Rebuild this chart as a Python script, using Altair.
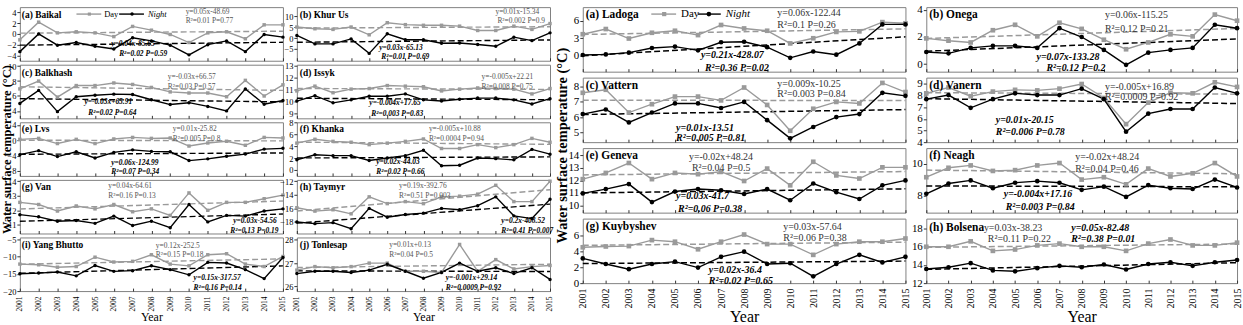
import altair as alt
import pandas as pd

YEARS = list(range(2001, 2016))

# ---------------- left figure (10 lakes) ----------------
BAIKAL_DAY = [-1.1, 2.2, 0.2, 0.4, 0.2, -0.5, 1.4, 0.7, -0.1, -1.6, 0.2, 0.4, -0.9, 1.7, 1.7]
BAIKAL_NIGHT = [-3.3, 0.0, -2.1, -1.6, -2.3, -2.8, -0.7, -1.3, -2.1, -3.9, -2.0, -1.3, -3.3, -0.1, -0.6]
KHURUS_DAY = [5.1, 4.3, 4.0, 5.1, 1.5, 7.1, 6.2, 5.9, 5.9, 5.5, 3.5, 3.5, 5.5, 4.0, 6.7]
KHURUS_NIGHT = [1.2, -2.7, -2.7, -0.4, -7.1, 2.0, -0.8, -0.8, -2.4, -2.3, -3.0, -3.8, 0.4, -1.2, 2.4]
BALKHASH_DAY = [6.95, 8.0, 5.85, 7.4, 7.4, 7.75, 7.55, 7.15, 6.55, 6.4, 6.4, 5.9, 8.1, 6.0, 7.5]
BALKHASH_NIGHT = [5.0, 6.75, 3.9, 5.9, 6.1, 6.25, 6.2, 5.5, 4.85, 5.1, 4.6, 4.0, 6.95, 4.9, 5.4]
ISSYK_DAY = [10.9, 11.3, 10.75, 11.05, 11.1, 11.35, 11.3, 11.25, 10.9, 11.05, 11.15, 11.1, 11.05, 10.65, 11.1]
ISSYK_NIGHT = [10.05, 10.5, 9.9, 10.15, 10.45, 10.45, 10.65, 10.15, 10.05, 10.2, 10.3, 10.3, 10.15, 9.8, 10.25]
LVS_DAY = [0.25, 0.5, -0.85, 0.25, -0.85, 0.35, 0.75, 0.5, 0.6, -1.5, -0.7, -0.25, -1.3, 0.75, 0.6]
LVS_NIGHT = [-3.75, -2.7, -4.25, -3.0, -4.6, -3.15, -2.5, -2.9, -3.0, -5.3, -4.85, -4.15, -3.6, -2.3, -2.1]
KHANKA_DAY = [4.5, 5.15, 4.8, 4.65, 4.25, 4.5, 4.8, 5.2, 3.6, 3.6, 4.25, 3.75, 4.25, 5.3, 4.65]
KHANKA_NIGHT = [1.7, 2.55, 2.4, 2.4, 1.6, 2.0, 2.4, 3.3, 0.7, 0.8, 2.0, 1.9, 1.7, 3.45, 2.65]
VAN_DAY = [12.55, 12.4, 11.95, 12.3, 12.1, 12.4, 11.9, 12.1, 11.65, 13.2, 12.0, 12.55, 12.55, 12.8, 13.05]
VAN_NIGHT = [11.7, 11.55, 11.25, 11.3, 11.1, 11.6, 10.95, 11.25, 10.8, 12.4, 11.2, 11.65, 11.6, 11.95, 12.1]
TAYMYR_DAY = [-15.9, -16.4, -16.2, -16.8, -14.3, -15.3, -15.0, -15.3, -14.3, -14.2, -13.9, -12.6, -15.0, -15.0, -12.0]
TAYMYR_NIGHT = [-18.0, -18.25, -18.1, -19.0, -16.0, -17.3, -16.9, -16.7, -16.0, -16.2, -15.6, -14.3, -17.1, -17.5, -14.65]
YANG_DAY = [-12.2, -12.4, -13.1, -12.9, -10.2, -11.6, -11.4, -9.5, -12.2, -12.7, -9.5, -9.2, -12.2, -12.9, -10.0]
YANG_NIGHT = [-15.0, -14.8, -14.5, -15.6, -12.6, -14.3, -14.1, -12.7, -13.8, -15.3, -11.7, -11.9, -13.8, -16.4, -10.3]
TONLE_DAY = [26.7, 26.85, 26.8, 26.85, 27.0, 27.0, 26.65, 26.65, 26.6, 27.8, 26.65, 27.15, 26.75, 26.85, 26.9]
TONLE_NIGHT = [26.55, 26.65, 26.65, 26.6, 26.7, 26.95, 26.65, 26.35, 26.6, 27.0, 26.65, 26.8, 26.55, 26.8, 26.3]

# ---------------- right figure (8 lakes) ----------------
LADOGA_DAY = [3.7, 4.6, 2.95, 3.95, 4.3, 3.55, 5.3, 4.7, 4.3, 2.1, 3.0, 4.1, 4.2, 5.8, 5.6]
LADOGA_NIGHT = [0.1, 0.2, 0.5, 1.3, 1.55, 0.9, 2.3, 2.4, 1.45, -0.4, 0.7, 0.15, 2.1, 5.4, 5.4]
ONEGA_DAY = [1.9, 1.73, 1.6, 2.5, 2.9, 2.05, 3.05, 2.6, 1.8, 1.1, 1.6, 2.2, 2.05, 3.65, 3.2]
ONEGA_NIGHT = [0.9, 0.8, 1.2, 1.35, 1.35, 1.2, 2.65, 2.0, 1.05, -0.05, 0.85, 1.05, 1.2, 2.9, 2.65]
VATTERN_DAY = [7.6, 7.8, 6.3, 6.85, 7.35, 7.35, 7.1, 7.95, 6.8, 5.1, 6.55, 7.0, 6.9, 8.25, 7.65]
VATTERN_NIGHT = [6.2, 6.5, 5.65, 6.3, 6.9, 6.9, 6.6, 7.0, 5.8, 4.6, 5.35, 6.0, 6.2, 7.6, 7.4]
VANERN_DAY = [8.2, 8.7, 7.95, 8.35, 8.5, 8.45, 8.6, 9.0, 7.8, 5.55, 7.4, 8.25, 8.2, 9.15, 8.75]
VANERN_NIGHT = [7.7, 8.05, 6.95, 7.7, 8.2, 8.05, 8.05, 8.6, 7.7, 4.9, 6.45, 6.85, 6.85, 8.7, 8.2]
GENEVA_DAY = [12.1, 12.6, 13.4, 12.1, 12.6, 12.5, 12.7, 11.95, 12.95, 11.6, 13.5, 12.4, 12.15, 13.05, 13.05]
GENEVA_NIGHT = [10.95, 11.3, 11.7, 10.25, 11.1, 11.3, 11.2, 10.9, 11.3, 10.4, 11.75, 11.05, 10.5, 11.6, 12.0]
NEAGH_DAY = [9.15, 9.75, 9.9, 9.55, 9.6, 9.9, 10.05, 9.0, 9.15, 8.7, 9.7, 9.2, 9.4, 10.05, 9.2]
NEAGH_NIGHT = [8.1, 8.75, 8.95, 8.45, 8.8, 8.9, 8.8, 8.35, 8.55, 7.9, 8.65, 8.45, 8.4, 9.0, 8.5]
KUYB_DAY = [4.5, 4.6, 4.65, 5.4, 5.2, 4.25, 5.2, 6.1, 4.9, 4.9, 3.55, 4.9, 5.2, 5.2, 5.6]
KUYB_NIGHT = [3.1, 2.4, 1.75, 2.4, 2.7, 1.95, 3.3, 3.95, 2.4, 2.5, 0.85, 2.4, 3.55, 2.6, 3.3]
BOLSENA_DAY = [16.0, 16.0, 16.6, 15.55, 15.7, 16.15, 16.35, 16.0, 16.0, 15.55, 16.35, 16.8, 16.15, 16.15, 16.45]
BOLSENA_NIGHT = [13.55, 13.75, 14.2, 13.4, 13.3, 13.65, 13.9, 13.75, 14.05, 13.5, 14.1, 14.3, 13.9, 14.3, 14.55]

FONT = "Liberation Serif"
DAY_C = "#9a9a9a"
NIGHT_C = "#000000"
YTITLE = "Water surface temperature (\u00b0C)"

LEFT = [
    dict(day=BAIKAL_DAY, night=BAIKAL_NIGHT, dom=[-5, 5], ticks=[-4, -2, 0, 2, 4], legend=True,
         ann=[("(a) Baikal", 2, 8, "t"), ("y=0.05x-48.69", 167, 5, "d"), ("R\u00b2=0.01 P=0.77", 167, 14, "d"),
              ("y=0.04x-85.65", 92, 37, "n"), ("R\u00b2=0.02 P=0.59", 100, 47, "n")]),
    dict(day=KHURUS_DAY, night=KHURUS_NIGHT, dom=[-10.5, 14.3], ticks=[-5, 0, 5, 10],
         ann=[("(b) Khur Us", 3, 8, "t"), ("y=0.01x-15.34", 200, 5, "d"), ("R\u00b2=0.002 P=0.9", 202, 14, "d"),
              ("y=0.03x-65.13", 83, 41, "n"), ("R\u00b2=0.01 P=0.69", 85, 50, "n")]),
    dict(day=BALKHASH_DAY, night=BALKHASH_NIGHT, dom=[3, 10.2], ticks=[4, 6, 8, 10],
         ann=[("(c) Balkhash", 2, 8, "t"), ("y=-0.03x+66.57", 149, 12, "d"), ("R\u00b2=0.03 P=0.57", 149, 22, "d"),
              ("y=-0.03x+65.91", 65, 38, "n"), ("R\u00b2=0.02 P=0.64", 69, 49, "n")]),
    dict(day=ISSYK_DAY, night=ISSYK_NIGHT, dom=[8.6, 13.1], ticks=[9, 10, 11, 12, 13],
         ann=[("(d) Issyk", 3, 8, "t"), ("y=-0.005x+22.21", 186, 12, "d"), ("R\u00b2=0.008 P=0.75", 186, 22, "d"),
              ("y=-0.004x+17.65", 73, 39, "n"), ("R\u00b2=0.003 P=0.83", 75, 50, "n")]),
    dict(day=LVS_DAY, night=LVS_NIGHT, dom=[-9.3, 4.7], ticks=[-8, -4, 0, 4], ytitle=True,
         ann=[("(e) Lvs", 2, 7, "t"), ("y=0.01x-25.82", 154, 7, "d"), ("R\u00b2=0.005 P=0.8", 154, 17, "d"),
              ("y=0.06x-124.99", 92, 41, "n"), ("R\u00b2=0.07 P=0.34", 92, 50, "n")]),
    dict(day=KHANKA_DAY, night=KHANKA_NIGHT, dom=[-1, 8], ticks=[0, 2, 4, 6, 8],
         ann=[("(f) Khanka", 3, 7, "t"), ("y=-0.005x+10.88", 133, 7, "d"), ("R\u00b2=0.0004 P=0.94", 133, 17, "d"),
              ("y=0.02x-44.03", 80, 40, "n"), ("R\u00b2=0.02 P=0.66", 80, 50, "n")]),
    dict(day=VAN_DAY, night=VAN_NIGHT, dom=[10.4, 14.1], ticks=[11, 12, 13, 14],
         ann=[("(g) Van", 2, 7, "t"), ("y=0.04x-64.61", 89, 6, "d"), ("R\u00b2=0.16 P=0.13", 89, 16, "d"),
              ("y=0.03x-54.56", 215, 41, "n"), ("R\u00b2=0.13 P=0.19", 212, 51, "n")]),
    dict(day=TAYMYR_DAY, night=TAYMYR_NIGHT, dom=[-19.7, -11.8], ticks=[-18, -16, -14, -12],
         ann=[("(h) Taymyr", 3, 7, "t"), ("y=0.19x-392.76", 103, 6, "d"), ("R\u00b2=0.51 P=0.003", 103, 16, "d"),
              ("y=0.2x-408.52", 206, 41, "n"), ("R\u00b2=0.41 P=0.007", 206, 51, "n")]),
    dict(day=YANG_DAY, night=YANG_NIGHT, dom=[-20, -4.5], ticks=[-20, -15, -10, -5], bottom=True,
         ann=[("(i) Yang Bhutto", 2, 8, "t"), ("y=0.12x-252.5", 137, 9, "d"), ("R\u00b2=0.15 P=0.18", 137, 18, "d"),
              ("y=0.15x-317.57", 175, 41, "n"), ("R\u00b2=0.16 P=0.14", 175, 51, "n")]),
    dict(day=TONLE_DAY, night=TONLE_NIGHT, dom=[25.8, 28.1], ticks=[26, 27, 28], bottom=True,
         ann=[("(j) Tonlesap", 3, 8, "t"), ("y=0.01x+0.13", 93, 8, "d"), ("R\u00b2=0.04 P=0.5", 93, 18, "d"),
              ("y=-0.001x+29.14", 150, 41, "n"), ("R\u00b2=0.0009 P=0.92", 150, 51, "n")]),
]

RIGHT = [
    dict(day=LADOGA_DAY, night=LADOGA_NIGHT, dom=[-2.8, 8.4], ticks=[0, 3, 6], legend=True,
         ann=[("(a) Ladoga", 3, 8, "t"), ("y=0.06x-122.44", 196, 6, "d"), ("R\u00b2=0.1 P=0.26", 196, 18, "d"),
              ("y=0.21x-428.07", 119, 48, "n"), ("R\u00b2=0.36 P=0.02", 123, 61, "n")]),
    dict(day=ONEGA_DAY, night=ONEGA_NIGHT, dom=[-0.55, 4.2], ticks=[0, 2, 4],
         ann=[("(b) Onega", 3, 8, "t"), ("y=0.06x-115.25", 180, 8, "d"), ("R\u00b2=0.12 P=0.21", 180, 22, "d"),
              ("y=0.07x-133.28", 111, 50, "n"), ("R\u00b2=0.12 P=0.2", 121, 61, "n")]),
    dict(day=VATTERN_DAY, night=VATTERN_NIGHT, dom=[4.35, 8.6], ticks=[5, 6, 7, 8], ytitle=True,
         ann=[("(c) Vattern", 3, 8, "t"), ("y=0.009x-10.25", 196, 6, "d"), ("R\u00b2=0.003 P=0.84", 196, 17, "d"),
              ("y=0.01x-13.51", 94, 51, "n"), ("R\u00b2=0.005 P=0.81", 94, 61, "n")]),
    dict(day=VANERN_DAY, night=VANERN_NIGHT, dom=[4.0, 9.55], ticks=[4, 5, 6, 7, 8, 9],
         ann=[("(d) Vanern", 3, 8, "t"), ("y=-0.005x+16.89", 180, 9, "d"), ("R\u00b2=0.0009 P=0.92", 180, 20, "d"),
              ("y=0.01x-20.15", 70, 43, "n"), ("R\u00b2=0.006 P=0.78", 70, 55, "n")]),
    dict(day=GENEVA_DAY, night=GENEVA_NIGHT, dom=[9.4, 14.6], ticks=[10, 11, 12, 13, 14],
         ann=[("(e) Geneva", 3, 8, "t"), ("y=-0.02x+48.24", 107, 9, "d"), ("R\u00b2=0.04 P=0.5", 110, 20, "d"),
              ("y=0.03x-41.7", 94, 48, "n"), ("R\u00b2=0.06 P=0.38", 96, 61, "n")]),
    dict(day=NEAGH_DAY, night=NEAGH_NIGHT, dom=[6.9, 11.0], ticks=[8, 10],
         ann=[("(f) Neagh", 3, 8, "t"), ("y=-0.02x+48.24", 150, 9, "d"), ("R\u00b2=0.04 P=0.46", 150, 21, "d"),
              ("y=-0.004x+17.16", 78, 46, "n"), ("R\u00b2=0.003 P=0.84", 80, 59, "n")]),
    dict(day=KUYB_DAY, night=KUYB_NIGHT, dom=[0, 8.1], ticks=[0, 2, 4, 6], bottom=True,
         ann=[("(g) Kuybyshev", 3, 8, "t"), ("y=0.03x-57.64", 202, 8, "d"), ("R\u00b2=0.06 P=0.38", 202, 20, "d"),
              ("y=0.02x-36.4", 127, 52, "n"), ("R\u00b2=0.02 P=0.65", 127, 63, "n")]),
    dict(day=BOLSENA_DAY, night=BOLSENA_NIGHT, dom=[12, 19.1], ticks=[12, 14, 16, 18], bottom=True,
         ann=[("(h) Bolsena", 3, 9, "t"), ("y=0.03x-38.23", 58, 9, "d"), ("R\u00b2=0.11 P=0.22", 62, 21, "d"),
              ("y=0.05x-82.48", 146, 9, "n"), ("R\u00b2=0.38 P=0.01", 146, 21, "n")]),
]

SMALL = dict(xl=7.5, yl=8.5, xt=12, t=9.5, eq=7.5, lg=8.5, lw=1.4, tw=1.4, sq=10, ci=12,
             dayeq="#555555", ytf=12.5, ytx=-13, yty=27,
             leg=dict(y=7, g=(57, 82, 70), dt=85, b=(100, 125, 113), nt=129))
BIG = dict(xl=10, yl=11, xt=16, t=11.5, eq=10, lg=11, lw=1.4, tw=1.5, sq=18, ci=22,
           dayeq="#333333", ytf=14.5, ytx=-20, yty=68,
           leg=dict(y=7, g=(69, 94, 82), dt=99, b=(116, 139, 127), nt=144))


def txt(s, x, y, size, color="#000", weight="normal", style="normal"):
    return alt.Chart(pd.DataFrame({"t": [s]})).mark_text(
        align="left", baseline="middle", font=FONT, fontSize=size,
        fontWeight=weight, fontStyle=style, color=color
    ).encode(text="t:N", x=alt.value(x), y=alt.value(y))


def legend_layers(sc):
    L = sc["leg"]
    one = pd.DataFrame({"k": [0]})
    out = []
    g0, g1, gp = L["g"]
    b0, b1, bp = L["b"]
    out.append(alt.Chart(one).mark_rule(color=DAY_C, strokeWidth=sc["lw"]).encode(
        x=alt.value(g0), x2=alt.value(g1), y=alt.value(L["y"])))
    out.append(alt.Chart(one).mark_point(shape="square", filled=True, color=DAY_C, size=sc["sq"], opacity=1).encode(
        x=alt.value(gp), y=alt.value(L["y"])))
    out.append(txt("Day", L["dt"], L["y"], sc["lg"]))
    out.append(alt.Chart(one).mark_rule(color=NIGHT_C, strokeWidth=sc["lw"]).encode(
        x=alt.value(b0), x2=alt.value(b1), y=alt.value(L["y"])))
    out.append(alt.Chart(one).mark_point(shape="circle", filled=True, color=NIGHT_C, size=sc["ci"], opacity=1).encode(
        x=alt.value(bp), y=alt.value(L["y"])))
    out.append(txt("Night", L["nt"], L["y"], sc["lg"], style="italic"))
    return out


def panel(cfg, w, h, sc):
    bottom = cfg.get("bottom", False)
    df = pd.DataFrame({
        "year": YEARS * 2,
        "value": cfg["day"] + cfg["night"],
        "series": ["Day"] * 15 + ["Night"] * 15,
    })
    # ticks drawn inside the frame: axis shifted up by the tick length
    xaxis = alt.Axis(values=YEARS, format="d", labelAngle=270, labels=bottom, ticks=True, tickSize=3,
                     offset=-3, tickColor="#333", domain=False, grid=False, labelFont=FONT,
                     labelFontSize=sc["xl"], labelColor="#000", labelPadding=5, labelAlign="right",
                     labelBaseline="middle", title="Year" if bottom else None, titleFont=FONT,
                     titleFontSize=sc["xt"], titleFontWeight="normal", titlePadding=1, titleColor="#000")
    yargs = dict(values=cfg["ticks"], domain=False, grid=False, tickSize=3, tickColor="#333",
                 labelFont=FONT, labelFontSize=sc["yl"], labelColor="#000", labelPadding=1, title=None)
    if cfg.get("ytitle"):
        yargs.update(title=YTITLE, titleFont=FONT, titleFontSize=sc["ytf"], titleFontWeight="bold",
                     titleColor="#000", titleX=sc["ytx"], titleY=sc["yty"], titleAngle=270,
                     titleAlign="center", titleBaseline="middle")
    yaxis = alt.Axis(**yargs)
    X = alt.X("year:Q", scale=alt.Scale(domain=[2001, 2015], nice=False, zero=False), axis=xaxis)
    Y = alt.Y("value:Q", scale=alt.Scale(domain=cfg["dom"], nice=False, zero=False), axis=yaxis)
    C = alt.Color("series:N", scale=alt.Scale(domain=["Day", "Night"], range=[DAY_C, NIGHT_C]), legend=None)
    S = alt.Shape("series:N", scale=alt.Scale(domain=["Day", "Night"], range=["square", "circle"]), legend=None)
    base = alt.Chart(df)
    reg = base.transform_regression("year", "value", groupby=["series"], extent=[2001, 2015]).mark_line(
        strokeDash=[6, 3], strokeWidth=sc["tw"]).encode(x=X, y=Y, color=C)
    line = base.mark_line(strokeWidth=sc["lw"]).encode(x=X, y=Y, color=C)
    pts = base.mark_point(filled=True, opacity=1, size=sc["ci"]).encode(x=X, y=Y, color=C, shape=S)
    layers = [reg, line, pts]
    for (s, x, y, k) in cfg["ann"]:
        if k == "t":
            layers.append(txt(s, x, y, sc["t"], weight="bold"))
        elif k == "d":
            layers.append(txt(s, x, y, sc["eq"], color=sc["dayeq"]))
        else:
            layers.append(txt(s, x, y, sc["eq"], weight="bold", style="italic"))
    if cfg.get("legend"):
        layers += legend_layers(sc)
    return alt.layer(*layers).properties(width=w, height=h)


left_panels = []
for i, cfg in enumerate(LEFT):
    left_panels.append(panel(cfg, 265 if i % 2 == 0 else 255, 54, SMALL))
right_panels = []
for i, cfg in enumerate(RIGHT):
    right_panels.append(panel(cfg, 325 if i % 2 == 0 else 313, 65, BIG))

left_fig = alt.concat(*left_panels, columns=2, spacing={"row": 4, "column": 14}, bounds="flush", align="each")
right_fig = alt.concat(*right_panels, columns=2, spacing={"row": 6, "column": 21}, bounds="flush", align="each")

chart = alt.hconcat(left_fig, right_fig, spacing=0).properties(
    padding={"left": 0, "top": 2, "right": 0, "bottom": 0}
).configure_view(stroke="#808080", strokeWidth=1)

chart.save("out.html", embed_options={"renderer": "svg", "actions": False})
